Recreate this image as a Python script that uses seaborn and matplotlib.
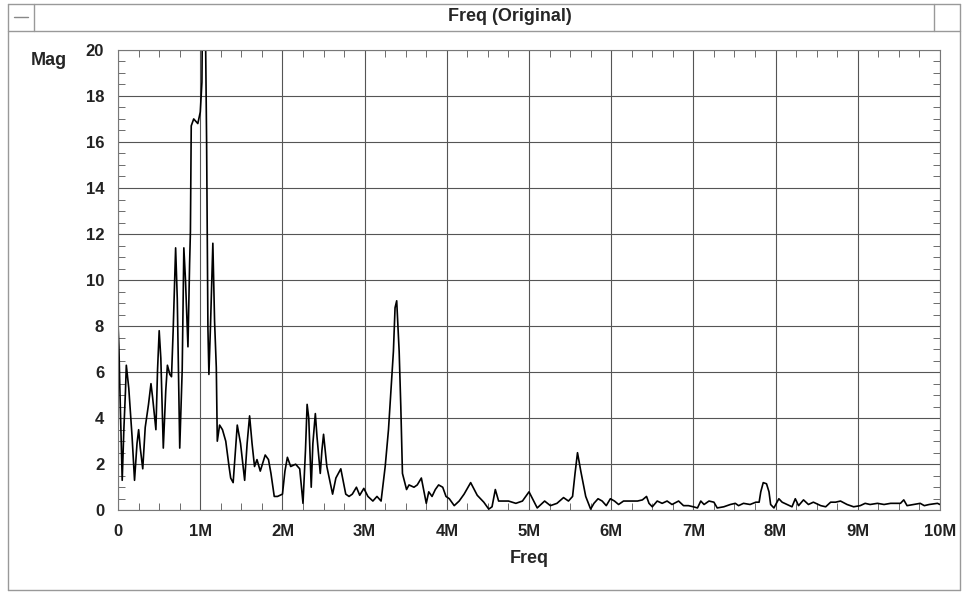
import seaborn as sns
import numpy as np
import matplotlib.pyplot as plt
from matplotlib.lines import Line2D
from matplotlib.ticker import MultipleLocator, FuncFormatter

# frequency in MHz, magnitude
freq = [0.0, 0.01, 0.02, 0.05, 0.07, 0.09, 0.10, 0.13, 0.17, 0.20, 0.23, 0.25, 0.27, 0.30,
        0.33, 0.37, 0.40, 0.42, 0.46, 0.48, 0.50, 0.52, 0.55, 0.58, 0.60, 0.63, 0.65, 0.67,
        0.70, 0.72, 0.75, 0.78, 0.80, 0.82, 0.85, 0.87, 0.88, 0.89, 0.92, 0.97, 1.00, 1.02,
        1.03, 1.06, 1.077, 1.085, 1.093, 1.105, 1.125, 1.153, 1.174, 1.195, 1.207, 1.235,
        1.27, 1.31, 1.35, 1.37, 1.40, 1.45, 1.49, 1.54, 1.57, 1.60, 1.63, 1.66, 1.69, 1.73,
        1.79, 1.83, 1.86, 1.90, 1.94, 2.00, 2.03, 2.06, 2.10, 2.16, 2.21, 2.25, 2.28, 2.30,
        2.32, 2.35, 2.37, 2.40, 2.42, 2.46, 2.48, 2.50, 2.54, 2.61, 2.65, 2.71, 2.77, 2.81,
        2.85, 2.90, 2.94, 2.99, 3.04, 3.10, 3.15, 3.20, 3.25, 3.29, 3.33, 3.35, 3.37, 3.39,
        3.42, 3.44, 3.46, 3.51, 3.54, 3.60, 3.64, 3.69, 3.75, 3.78, 3.82, 3.86, 3.90, 3.95,
        3.99, 4.03, 4.09, 4.15, 4.21, 4.29, 4.37, 4.45, 4.51, 4.55, 4.59, 4.63, 4.75, 4.84,
        4.92, 5.00, 5.10, 5.19, 5.26, 5.34, 5.42, 5.48, 5.53, 5.56, 5.59, 5.63, 5.69, 5.75,
        5.79, 5.84, 5.89, 5.94, 5.99, 6.04, 6.09, 6.15, 6.23, 6.32, 6.38, 6.43, 6.46, 6.50,
        6.56, 6.62, 6.68, 6.74, 6.82, 6.88, 6.94, 7.00, 7.05, 7.09, 7.13, 7.19, 7.25, 7.29,
        7.37, 7.45, 7.51, 7.55, 7.61, 7.69, 7.76, 7.80, 7.82, 7.85, 7.89, 7.92, 7.94, 7.98,
        8.04, 8.08, 8.14, 8.20, 8.24, 8.28, 8.34, 8.40, 8.46, 8.55, 8.61, 8.67, 8.73, 8.79,
        8.87, 8.95, 9.03, 9.09, 9.15, 9.24, 9.32, 9.40, 9.52, 9.56, 9.60, 9.68, 9.76, 9.81,
        9.87, 9.97, 10.0]
mag = [8.0, 7.1, 5.5, 1.3, 3.5, 5.2, 6.3, 5.3, 3.2, 1.3, 2.9, 3.5, 2.7, 1.8,
       3.6, 4.6, 5.5, 4.9, 3.5, 6.1, 7.8, 6.6, 2.7, 5.2, 6.3, 5.9, 5.8, 7.8,
       11.4, 9.2, 2.7, 6.1, 11.4, 10.0, 7.1, 10.7, 12.1, 16.7, 17.0, 16.8, 17.3, 18.6,
       23.0, 22.0, 16.0, 12.1, 7.9, 5.9, 8.1, 11.6, 8.2, 6.2, 3.0, 3.7,
       3.5, 3.0, 1.9, 1.4, 1.2, 3.7, 2.9, 1.3, 2.9, 4.1, 2.9, 1.9, 2.2, 1.7,
       2.4, 2.2, 1.6, 0.6, 0.6, 0.7, 1.7, 2.3, 1.9, 2.0, 1.8, 0.3, 2.6, 4.6,
       4.0, 1.0, 2.9, 4.2, 3.2, 1.6, 2.6, 3.3, 1.9, 0.7, 1.4, 1.8, 0.7, 0.6,
       0.7, 1.0, 0.65, 0.95, 0.6, 0.4, 0.6, 0.4, 1.9, 3.5, 5.8, 6.9, 8.8, 9.1,
       6.9, 4.5, 1.6, 0.9, 1.1, 1.0, 1.1, 1.4, 0.3, 0.8, 0.6, 0.9, 1.1, 1.0,
       0.6, 0.5, 0.2, 0.4, 0.7, 1.2, 0.65, 0.35, 0.05, 0.15, 0.9, 0.4, 0.4, 0.3,
       0.4, 0.8, 0.1, 0.4, 0.2, 0.3, 0.55, 0.4, 0.6, 1.6, 2.5, 1.7, 0.6, 0.05,
       0.3, 0.5, 0.4, 0.2, 0.5, 0.4, 0.25, 0.4, 0.4, 0.4, 0.45, 0.6, 0.3, 0.15,
       0.4, 0.3, 0.4, 0.25, 0.4, 0.2, 0.2, 0.15, 0.1, 0.4, 0.25, 0.4, 0.35, 0.1,
       0.15, 0.25, 0.3, 0.2, 0.3, 0.25, 0.35, 0.35, 0.8, 1.2, 1.15, 0.8, 0.25, 0.1,
       0.5, 0.35, 0.25, 0.15, 0.5, 0.2, 0.45, 0.25, 0.35, 0.2, 0.15, 0.35, 0.35, 0.4,
       0.25, 0.15, 0.2, 0.3, 0.25, 0.3, 0.25, 0.3, 0.3, 0.45, 0.2, 0.25, 0.3, 0.2,
       0.25, 0.3, 0.25]

sns.set_style('ticks')
plt.rcParams['font.family'] = ['Liberation Sans Narrow', 'Liberation Sans', 'DejaVu Sans']
plt.rcParams['font.weight'] = 'bold'

fig = plt.figure(figsize=(9.68, 5.94), dpi=100)
ax = fig.add_axes([0.122, 0.141, 0.849, 0.775])

sns.lineplot(x=freq, y=mag, color='black', linewidth=1.2, ax=ax)

ax.set_xlim(0, 10)
ax.set_ylim(0, 20)
ax.xaxis.set_major_locator(MultipleLocator(1))
ax.xaxis.set_minor_locator(MultipleLocator(0.25))
ax.yaxis.set_major_locator(MultipleLocator(2))
ax.yaxis.set_minor_locator(MultipleLocator(0.5))
ax.xaxis.set_major_formatter(FuncFormatter(lambda v, p: '0' if v == 0 else '%dM' % v))
ax.grid(True, which='major', color='#555555', linewidth=0.8)
ax.tick_params(which='both', direction='in', top=True, right=True, labelsize=12, colors='#222222')
ax.tick_params(which='major', length=0, pad=10)
ax.tick_params(which='minor', length=5, color='#555555')
for s in ax.spines.values():
    s.set_color('#777777')
    s.set_linewidth(0.8)

ax.set_xlabel('Freq', fontsize=13, fontweight='bold', labelpad=8)
ax.set_ylabel('')
fig.text(0.05, 0.898, 'Mag', fontsize=13, fontweight='bold', ha='center', va='center')

# window frame and title bar
fig.text(0.527, 0.972, 'Freq (Original)', fontsize=13, fontweight='bold', ha='center', va='center')
frame = dict(color='#999999', linewidth=1.0, transform=fig.transFigure)
fig.add_artist(Line2D([0.008, 0.992], [0.993, 0.993], **frame))
fig.add_artist(Line2D([0.008, 0.992], [0.948, 0.948], **frame))
fig.add_artist(Line2D([0.008, 0.008], [0.007, 0.993], **frame))
fig.add_artist(Line2D([0.992, 0.992], [0.007, 0.993], **frame))
fig.add_artist(Line2D([0.008, 0.992], [0.007, 0.007], **frame))
fig.add_artist(Line2D([0.035, 0.035], [0.948, 0.993], **frame))
fig.add_artist(Line2D([0.965, 0.965], [0.948, 0.993], **frame))
fig.add_artist(Line2D([0.014, 0.029], [0.972, 0.972], color='#888888', linewidth=1.0,
                      transform=fig.transFigure))

fig.savefig('out.png', dpi=100)
